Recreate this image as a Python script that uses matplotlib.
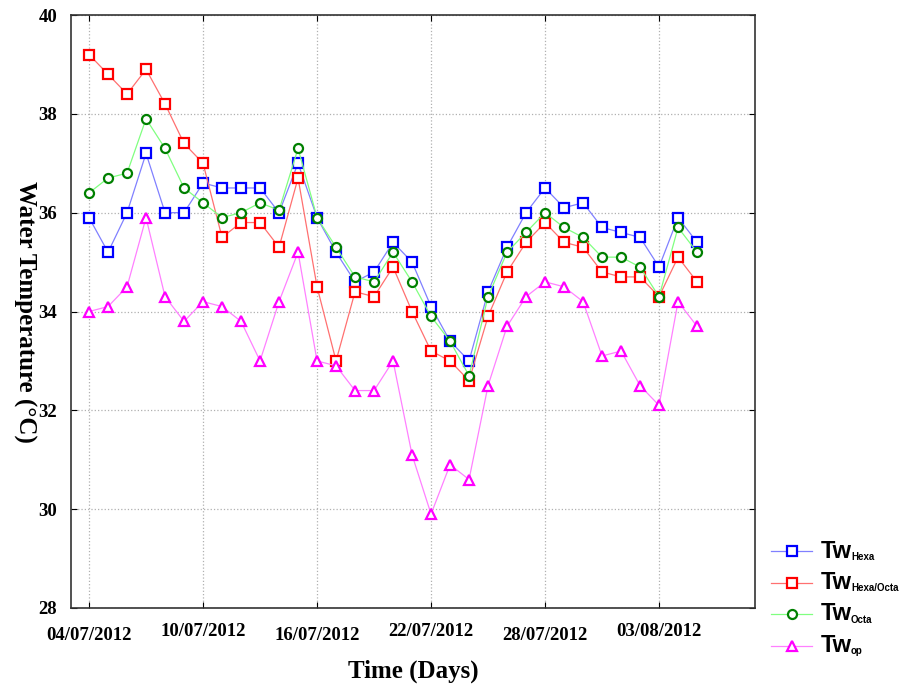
import numpy as np
import matplotlib
matplotlib.use('Agg')
import matplotlib.pyplot as plt
from matplotlib.transforms import ScaledTranslation

# dias desde el 04/07/2012 hasta el 05/08/2012
dias = np.arange(33)
etiquetas_x = ['04/07/2012', '10/07/2012', '16/07/2012', '22/07/2012', '28/07/2012', '03/08/2012']
posiciones_x = [0, 6, 12, 18, 24, 30]

tw_hexa = [35.9, 35.2, 36.0, 37.2, 36.0, 36.0, 36.6, 36.5, 36.5, 36.5, 36.0,
           37.0, 35.9, 35.2, 34.6, 34.8, 35.4, 35.0, 34.1, 33.4, 33.0, 34.4,
           35.3, 36.0, 36.5, 36.1, 36.2, 35.7, 35.6, 35.5, 34.9, 35.9, 35.4]
tw_hexa_octa = [39.2, 38.8, 38.4, 38.9, 38.2, 37.4, 37.0, 35.5, 35.8, 35.8, 35.3,
                36.7, 34.5, 33.0, 34.4, 34.3, 34.9, 34.0, 33.2, 33.0, 32.6, 33.9,
                34.8, 35.4, 35.8, 35.4, 35.3, 34.8, 34.7, 34.7, 34.3, 35.1, 34.6]
tw_octa = [36.4, 36.7, 36.8, 37.9, 37.3, 36.5, 36.2, 35.9, 36.0, 36.2, 36.05,
           37.3, 35.9, 35.3, 34.7, 34.6, 35.2, 34.6, 33.9, 33.4, 32.7, 34.3,
           35.2, 35.6, 36.0, 35.7, 35.5, 35.1, 35.1, 34.9, 34.3, 35.7, 35.2]
tw_op = [34.0, 34.1, 34.5, 35.9, 34.3, 33.8, 34.2, 34.1, 33.8, 33.0, 34.2,
         35.2, 33.0, 32.9, 32.4, 32.4, 33.0, 31.1, 29.9, 30.9, 30.6, 32.5,
         33.7, 34.3, 34.6, 34.5, 34.2, 33.1, 33.2, 32.5, 32.1, 34.2, 33.7]

fig = plt.figure(figsize=(9.02, 6.9), dpi=100)
ax = fig.add_axes([71 / 902, 1 - 608 / 690, (755 - 71) / 902, (608 - 15) / 690])

fuente_tw = dict(family='Liberation Sans', fontweight='bold')

series = [
    (tw_hexa, '#8080ff', 'blue', 's', 'Hexa'),
    (tw_hexa_octa, '#ff7070', 'red', 's', 'Hexa/Octa'),
    (tw_octa, '#80ff80', 'green', 'o', 'Octa'),
    (tw_op, '#ff80ff', 'magenta', '^', 'op'),
]
for valores, col_linea, col_marca, marca, nombre in series:
    ax.plot(dias, valores, color=col_linea, linewidth=0.9, marker=marca,
            markersize=6.5, markerfacecolor='white', markeredgecolor=col_marca,
            markeredgewidth=1.6, label=nombre)

ax.set_xlim(-0.95, 35.05)
ax.set_ylim(28, 40)
ax.set_yticks([28, 30, 32, 34, 36, 38, 40])
ax.set_xticks(posiciones_x)
ax.set_xticklabels(etiquetas_x)
ax.grid(True, linestyle=':', color='#b0b0b0', linewidth=0.9)
ax.tick_params(direction='in', top=True, right=True, length=4)
ax.tick_params(axis='x', pad=14)
ax.tick_params(axis='y', pad=10)
for lab in ax.get_xticklabels() + ax.get_yticklabels():
    lab.set_fontfamily('Liberation Serif')
    lab.set_fontweight('bold')
    lab.set_fontsize(13.5)
for i, lab in enumerate(ax.get_xticklabels()):
    if i % 2 == 1:
        lab.set_transform(lab.get_transform() + ScaledTranslation(0, 3 / 72, fig.dpi_scale_trans))
for s in ax.spines.values():
    s.set_linewidth(1.2)
    s.set_color('#333333')

ax.set_xlabel('Time (Days)', family='Liberation Serif', fontweight='bold', fontsize=18,
              va='center')
ax.xaxis.set_label_coords(0.5, -0.107)
ax.set_ylabel('Water Temperature (°C)', family='Liberation Serif', fontweight='bold',
              fontsize=18, rotation=270, va='center', ha='center')
ax.yaxis.set_label_coords(-0.068, 0.5)

# leyenda fuera del area de graficas
for j, (valores, col_linea, col_marca, marca, nombre) in enumerate(series):
    yy = 1 - (551 + j * 31.5) / 690
    fig.lines.append(plt.Line2D([771 / 902, 812 / 902], [yy, yy], transform=fig.transFigure,
                                color=col_linea, linewidth=0.9))
    fig.lines.append(plt.Line2D([791.5 / 902], [yy], transform=fig.transFigure,
                                marker=marca, markersize=6.5, markerfacecolor='white',
                                markeredgecolor=col_marca, markeredgewidth=1.6,
                                linestyle='none'))
    fig.text(821 / 902, yy, 'Tw', fontsize=17, va='center', **fuente_tw)
    fig.text(851 / 902, yy - 0.008, nombre, fontsize=7, va='center', **fuente_tw)

fig.savefig('out.png', dpi=100)
